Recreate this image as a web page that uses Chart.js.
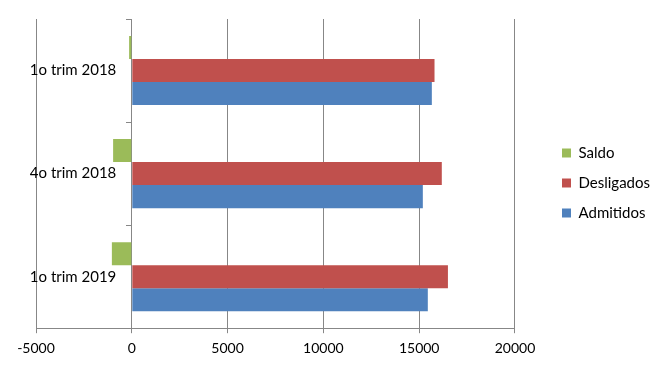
<!DOCTYPE html>
<html><head><meta charset="utf-8">
<script src="https://cdn.jsdelivr.net/npm/chart.js@4"></script>
<style>html,body{margin:0;padding:0;background:#fff;} canvas{display:block;}</style>
</head><body>
<canvas id="c" width="663" height="366"></canvas>
<script>
const categories = ['1o trim 2018', '4o trim 2018', '1o trim 2019'];
const saldo = [-140, -975, -1040];
const desligados = [15800, 16180, 16500];
const admitidos = [15660, 15190, 15450];
const xTicks = [-5000, 0, 5000, 10000, 15000, 20000];

const GRID = '#878787';

const legendShift = {
  id: 'legendShift',
  afterLayout(chart) {
    const lg = chart.legend;
    if (!lg) return;
    const target = chart.chartArea.right + 32;
    const d = target - lg.left;
    lg.left += d; lg.right += d;
    lg.top = 0; lg.bottom = chart.height; lg.height = chart.height;
  },
  beforeDraw(chart) {
    const ys = chart.scales.y;
    if (!ys) return;
    const items = ys.getLabelItems();
    if (!items._shifted) {
      items.forEach(it => { it.options.translation[0] -= 15.5; });
      items._shifted = true;
    }
  }
};

new Chart(document.getElementById('c'), {
  type: 'bar',
  data: {
    labels: categories,
    datasets: [
      { label: 'Saldo', data: saldo, backgroundColor: '#9BBB59' },
      { label: 'Desligados', data: desligados, backgroundColor: '#C0504D' },
      { label: 'Admitidos', data: admitidos, backgroundColor: '#4F81BD' }
    ]
  },
  options: {
    indexAxis: 'y',
    responsive: false,
    animation: false,
    devicePixelRatio: 1,
    barPercentage: 1,
    categoryPercentage: 0.67,
    layout: { padding: { left: 36, right: 35, top: 15, bottom: 2 } },
    scales: {
      x: {
        type: 'linear',
        min: -5000, max: 20000,
        afterBuildTicks(scale) { scale.ticks = xTicks.map(v => ({ value: v })); },
        grid: { color: GRID, lineWidth: 1, drawTicks: true, tickLength: 5 },
        border: { display: true, color: GRID, width: 1 },
        ticks: {
          color: '#000', padding: 7,
          font: { family: 'Lato', size: 14 },
          callback: v => String(v)
        }
      },
      y: {
        type: 'category',
        position: { x: 0 },
        grid: { drawOnChartArea: false, drawTicks: true, tickLength: 5, color: GRID, offset: true },
        border: { display: true, color: GRID, width: 1 },
        ticks: { color: '#000', padding: 10, font: { family: 'Lato', size: 15 } }
      }
    },
    plugins: {
      legend: {
        position: 'right',
        align: 'center',
        labels: {
          boxWidth: 9, boxHeight: 9, padding: 15, color: '#000',
          font: { family: 'Lato', size: 15 }
        }
      },
      tooltip: { enabled: false }
    }
  },
  plugins: [legendShift]
});
</script>
</body></html>
